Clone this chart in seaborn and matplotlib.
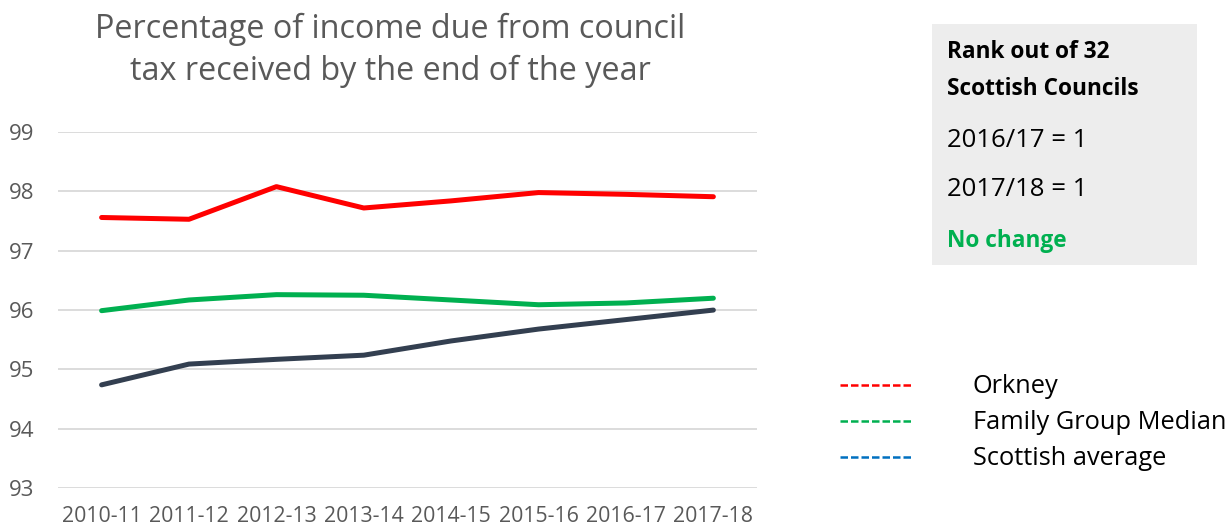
import matplotlib
matplotlib.use("Agg")
import matplotlib.pyplot as plt
from matplotlib.patches import Rectangle
from matplotlib.lines import Line2D
import seaborn as sns
import pandas as pd

years = ["2010-11", "2011-12", "2012-13", "2013-14",
         "2014-15", "2015-16", "2016-17", "2017-18"]
orkney = [97.56, 97.53, 98.08, 97.72, 97.84, 97.98, 97.95, 97.91]
family_median = [95.99, 96.17, 96.26, 96.25, 96.17, 96.09, 96.12, 96.20]
scottish_avg = [94.74, 95.09, 95.17, 95.24, 95.48, 95.68, 95.84, 96.00]
series_names = ["Orkney", "Family Group Median", "Scottish average"]
line_colors = ["#FF0000", "#00B050", "#333F50"]
legend_colors = ["#FF0000", "#00B050", "#0070C0"]
y_ticks = [93, 94, 95, 96, 97, 98, 99]

df = pd.DataFrame({
    "year": years * 3,
    "value": orkney + family_median + scottish_avg,
    "series": [s for s in series_names for _ in years],
})

sns.set_theme(style="white")
plt.rcParams["font.family"] = ["Open Sans", "DejaVu Sans"]

fig = plt.figure(figsize=(12.32, 5.26), dpi=100)
ax = fig.add_axes([0.047, 0.072, 0.5675, 0.677])

sns.lineplot(data=df, x="year", y="value", hue="series",
             palette=dict(zip(series_names, line_colors)),
             linewidth=3.6, legend=False, ax=ax, sort=False)
for ln in ax.get_lines():
    ln.set_solid_capstyle("round")
    ln.set_solid_joinstyle("round")

ax.set_xlim(-0.5, len(years) - 0.5)
ax.set_ylim(93, 99)
ax.set_yticks(y_ticks)
ax.set_yticklabels([str(t) for t in y_ticks])
ax.set_xlabel("")
ax.set_ylabel("")
ax.grid(axis="y", color="#D9D9D9", linewidth=1.3)
ax.set_axisbelow(True)
for sp in ax.spines.values():
    sp.set_visible(False)
ax.tick_params(axis="x", length=0, labelsize=15.3, colors="#595959", pad=13)
ax.tick_params(axis="y", length=0, labelsize=16, colors="#595959", pad=17)

# Title
fig.text(0.317, 0.975, "Percentage of income due from council\ntax received by the end of the year",
         ha="center", va="top", fontsize=23.3, color="#595959", linespacing=1.33)

# Rank box
fig.patches.append(Rectangle((932 / 1232, 1 - 265 / 526), 265 / 1232, 241 / 526,
                             transform=fig.transFigure, facecolor="#EDEDED",
                             edgecolor="none"))
bx = 947 / 1232
fig.text(bx, 1 - 52 / 526, "Rank out of 32", fontsize=16.3, fontweight="bold",
         color="black", va="center")
fig.text(bx, 1 - 89 / 526, "Scottish Councils", fontsize=16.3, fontweight="bold",
         color="black", va="center")
fig.text(bx, 1 - 140 / 526, "2016/17 = 1", fontsize=18.5, color="black", va="center")
fig.text(bx, 1 - 190 / 526, "2017/18 = 1", fontsize=18.5, color="black", va="center")
fig.text(bx, 1 - 241 / 526, "No change", fontsize=16.3, fontweight="bold",
         color="#00B050", va="center")

# Legend
for name, col, ypx in zip(series_names, legend_colors, [385, 421, 457]):
    yf = 1 - ypx / 526
    fig.lines.append(Line2D([840 / 1232, 912 / 1232], [yf, yf],
                            transform=fig.transFigure, color=col,
                            linewidth=1.8, linestyle=(0, (3, 1.2))))
    fig.text(973 / 1232, yf - 0.002, name, fontsize=18.3, color="black", va="center")

fig.savefig("out.png", dpi=100)
